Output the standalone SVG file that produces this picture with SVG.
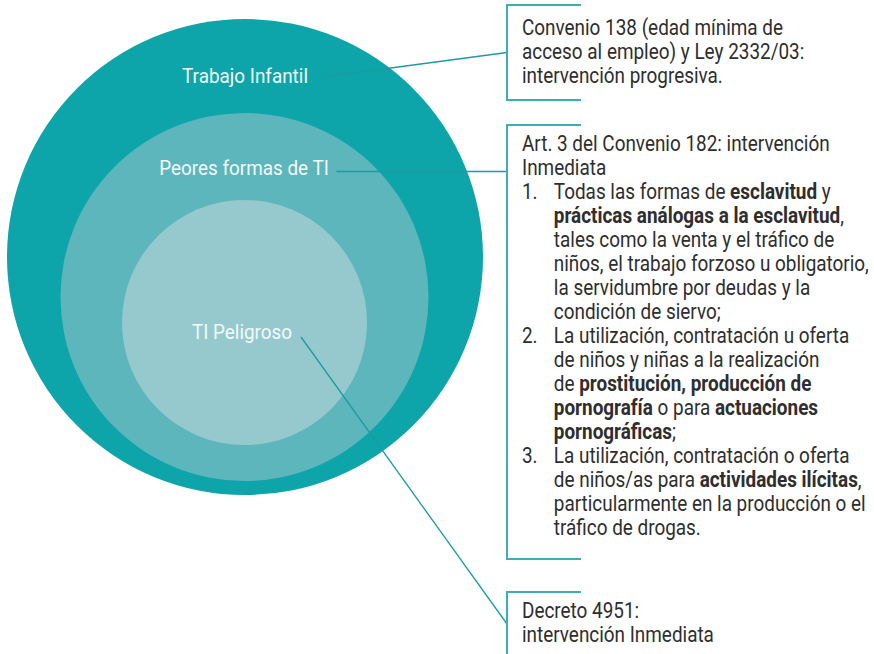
<svg xmlns="http://www.w3.org/2000/svg" width="874" height="654" viewBox="0 0 874 654">
<style>
.lbl{font-family:Roboto,"Liberation Sans",sans-serif;font-size:21px;fill:#f2fafa;text-anchor:middle}
.t{font-family:Roboto,"Liberation Sans",sans-serif;font-size:22px;fill:#2e2e2e}
.b{font-weight:bold}
.br{fill:none;stroke:#3bb0b3;stroke-width:2}
.cn{fill:none;stroke:#1a9ca1;stroke-width:1.3}
</style>
<rect width="874" height="654" fill="#ffffff"/>
<g id="trabajo-infantil">
<circle cx="245" cy="257" r="238" fill="#0da5aa"/>
<text class="lbl" transform="translate(245,83) scale(0.9,1)">Trabajo Infantil</text>
</g>
<g id="peores-formas">
<circle cx="244.5" cy="297" r="184" fill="#5db6bb"/>
<text class="lbl" transform="translate(244,175) scale(0.9,1)">Peores formas de TI</text>
</g>
<g id="ti-peligroso">
<circle cx="244.5" cy="322.5" r="122.5" fill="#96c9ce"/>
<text class="lbl" transform="translate(242,339) scale(0.9,1)">TI Peligroso</text>
</g>
<g id="connectors">
<line class="cn" x1="323" y1="77" x2="507" y2="52.5"/>
<line class="cn" x1="336.5" y1="171.5" x2="507" y2="171.5"/>
<line class="cn" x1="301" y1="337" x2="507" y2="624"/>
</g>
<g id="nota-convenio-138">
<path class="br" d="M581,5 H507 V100 H581"/>
<g transform="translate(522,0) scale(0.86,1)">
<text class="t" x="0" y="35.5">Convenio 138 (edad mínima de</text>
<text class="t" x="0" y="59.5">acceso al empleo) y Ley 2332/03:</text>
<text class="t" x="0" y="83.5">intervención progresiva.</text>
</g>
</g>
<g id="nota-convenio-182">
<path class="br" d="M581,125 H507 V559 H581"/>
<g transform="translate(522,0) scale(0.86,1)">
<text class="t" x="0" y="151.5">Art. 3 del Convenio 182: intervención</text>
<text class="t" x="0" y="175.5">Inmediata</text>
<text class="t" x="0" y="199.5">1.</text>
<text class="t" x="37" y="199.5">Todas las formas de <tspan class="b">esclavitud</tspan> y</text>
<text class="t" x="37" y="223.5"><tspan class="b">prácticas análogas a la esclavitud</tspan>,</text>
<text class="t" x="37" y="247.5">tales como la venta y el tráfico de</text>
<text class="t" x="37" y="271.5">niños, el trabajo forzoso u obligatorio,</text>
<text class="t" x="37" y="295.5">la servidumbre por deudas y la</text>
<text class="t" x="37" y="319.5">condición de siervo;</text>
<text class="t" x="0" y="343.5">2.</text>
<text class="t" x="37" y="343.5">La utilización, contratación u oferta</text>
<text class="t" x="37" y="367.5">de niños y niñas a la realización</text>
<text class="t" x="37" y="391.5">de <tspan class="b">prostitución, producción de</tspan></text>
<text class="t" x="37" y="415.5"><tspan class="b">pornografía</tspan> o para <tspan class="b">actuaciones</tspan></text>
<text class="t" x="37" y="439.5"><tspan class="b">pornográficas</tspan>;</text>
<text class="t" x="0" y="463.5">3.</text>
<text class="t" x="37" y="463.5">La utilización, contratación o oferta</text>
<text class="t" x="37" y="487.5">de niños/as para <tspan class="b">actividades ilícitas</tspan>,</text>
<text class="t" x="37" y="511.5">particularmente en la producción o el</text>
<text class="t" x="37" y="535.5">tráfico de drogas.</text>
</g>
</g>
<g id="nota-decreto-4951">
<path class="br" d="M581,592 H507 V656"/>
<g transform="translate(522,0) scale(0.86,1)">
<text class="t" x="0" y="618">Decreto 4951:</text>
<text class="t" x="0" y="642">intervención Inmediata</text>
</g>
</g>
</svg>
